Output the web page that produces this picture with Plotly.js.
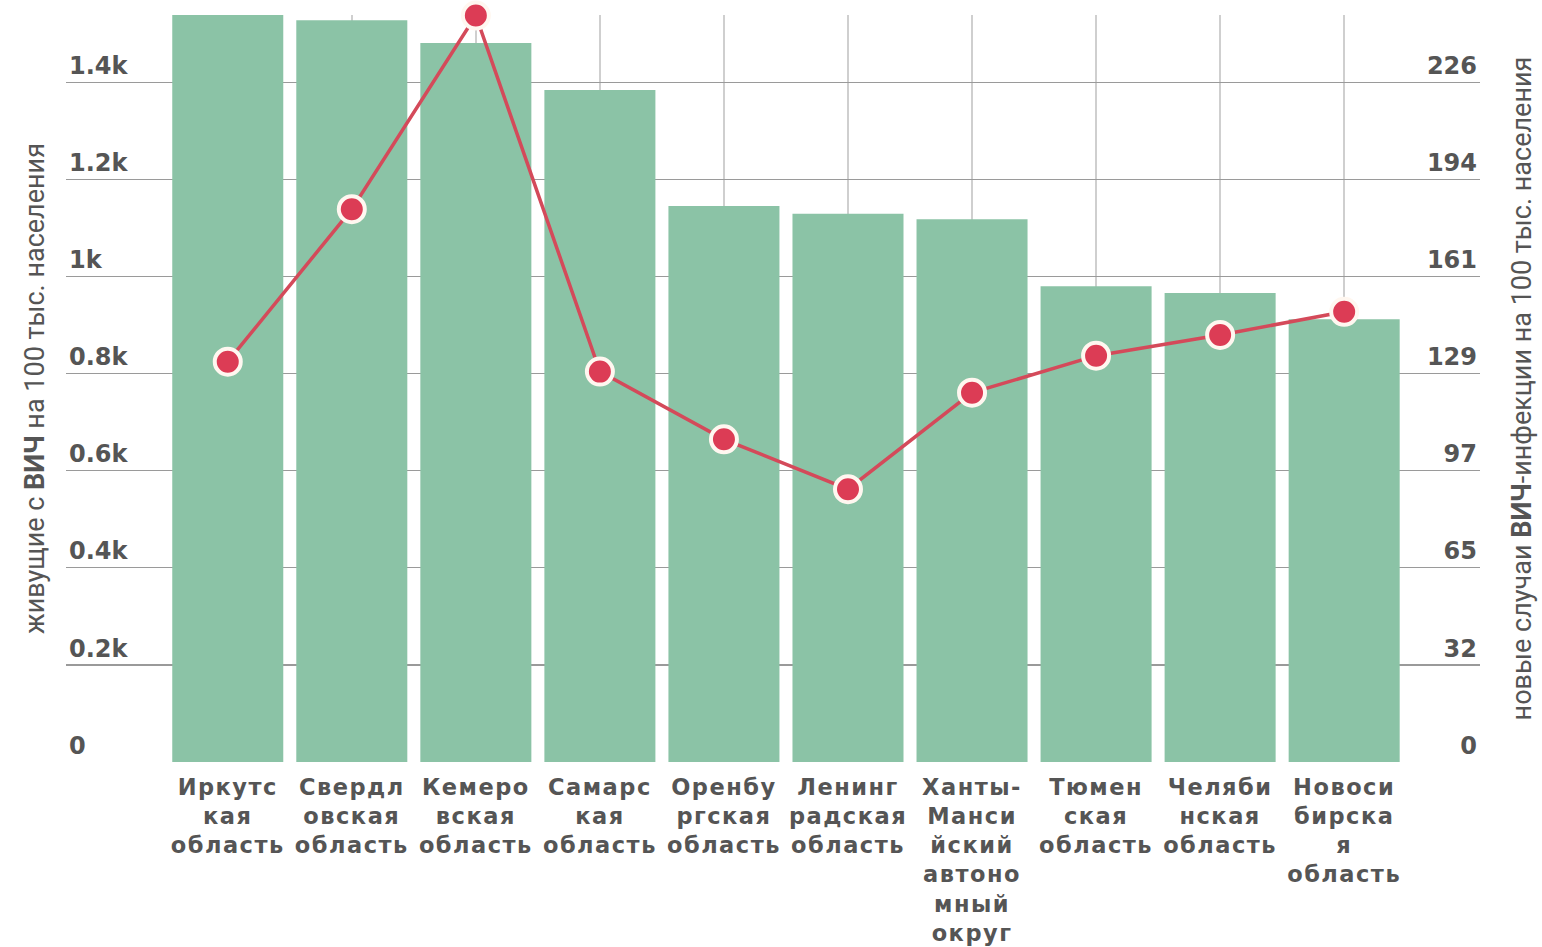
<!DOCTYPE html>
<html>
<head>
<meta charset="utf-8">
<script src="https://cdn.plot.ly/plotly-3.0.1.min.js"></script>
<style>
html, body { margin: 0; padding: 0; background: #fff; }
#chart { width: 1542px; height: 947px; }
#chart .xtick text { letter-spacing: 1.5px; }
</style>
</head>
<body>
<div id="chart"></div>
<script>
// Region names (tick labels, wrapped as in the source)
const regions = [
  "Иркутс<br>кая<br>область",
  "Свердл<br>овская<br>область",
  "Кемеро<br>вская<br>область",
  "Самарс<br>кая<br>область",
  "Оренбу<br>ргская<br>область",
  "Ленинг<br>радская<br>область",
  "Ханты-<br>Манси<br>йский<br>автоно<br>мный<br>округ",
  "Тюмен<br>ская<br>область",
  "Челяби<br>нская<br>область",
  "Новоси<br>бирска<br>я<br>область"
];

// Living with HIV per 100k population (left axis, bars)
const livingWithHIV = [1560, 1528, 1481, 1384, 1145, 1129, 1118, 980, 966, 912];

// New HIV cases per 100k population (right axis, line)
const newCases = [133.1, 183.8, 248.2, 129.8, 107.3, 90.7, 122.8, 135.1, 142.0, 149.7];

// Left axis ticks
const leftTickVals = [0, 200, 400, 600, 800, 1000, 1200, 1400];
const leftTickText = ["0", "0.2k", "0.4k", "0.6k", "0.8k", "1k", "1.2k", "1.4k"];

// Right axis ticks (aligned with left gridlines)
const rightTickVals = [0, 32.286, 64.571, 96.857, 129.143, 161.429, 193.714, 226];
const rightTickText = ["0", "32", "65", "97", "129", "161", "194", "226"];

const leftMax = 1538.6;
const rightMax = leftMax * 226 / 1400;

const idx = regions.map((_, i) => i);

const bars = {
  type: "bar",
  x: idx,
  y: livingWithHIV,
  marker: { color: "#8bc3a6" },
  hoverinfo: "y",
  yaxis: "y"
};

const line = {
  type: "scatter",
  mode: "lines+markers",
  x: idx,
  y: newCases,
  yaxis: "y2",
  line: { color: "#d44a5a", width: 3.5 },
  marker: { color: "#dc3c55", size: 26, line: { color: "#fff7f0", width: 4 } },
  cliponaxis: false
};

const tickFont = { family: "DejaVu Sans", size: 24, color: "#555555", weight: "bold" };

const layout = {
  width: 1542,
  height: 947,
  margin: { l: 66, r: 62, t: 15, b: 185 },
  paper_bgcolor: "#ffffff",
  plot_bgcolor: "#ffffff",
  showlegend: false,
  bargap: 0.105,
  xaxis: {
    type: "linear",
    range: [-1.304, 10.095],
    tickmode: "array",
    tickvals: idx,
    ticktext: regions,
    tickfont: { family: "DejaVu Sans", size: 22.5, color: "#555555", weight: "bold" },
    showgrid: true,
    gridcolor: "#cfcfcf",
    gridwidth: 2.5,
    zeroline: false,
    showline: false,
    ticks: "",
    ticklabelstandoff: 9
  },
  yaxis: {
    range: [0, leftMax],
    tickmode: "array",
    tickvals: leftTickVals,
    ticktext: leftTickText,
    tickfont: tickFont,
    ticklabelposition: "inside top",
    showgrid: true,
    gridcolor: "#9a9a9a",
    gridwidth: 1.2,
    zeroline: false,
    showline: false,
    ticks: "",
    automargin: false,
    title: {
      text: "живущие с <b>ВИЧ</b> на 100 тыс. населения",
      font: { family: "Roboto", size: 27, color: "#555555" },
      standoff: 16
    }
  },
  yaxis2: {
    overlaying: "y",
    side: "right",
    range: [0, rightMax],
    tickmode: "array",
    tickvals: rightTickVals,
    ticktext: rightTickText,
    tickfont: tickFont,
    ticklabelposition: "inside top",
    showgrid: false,
    zeroline: false,
    showline: false,
    ticks: "",
    automargin: false,
    title: {
      text: "новые случаи <b>ВИЧ</b>-инфекции на 100 тыс. населения",
      font: { family: "Roboto", size: 27, color: "#555555" },
      standoff: 36
    }
  }
};

Plotly.newPlot("chart", [bars, line], layout, { displayModeBar: false, staticPlot: true });
</script>
</body>
</html>
